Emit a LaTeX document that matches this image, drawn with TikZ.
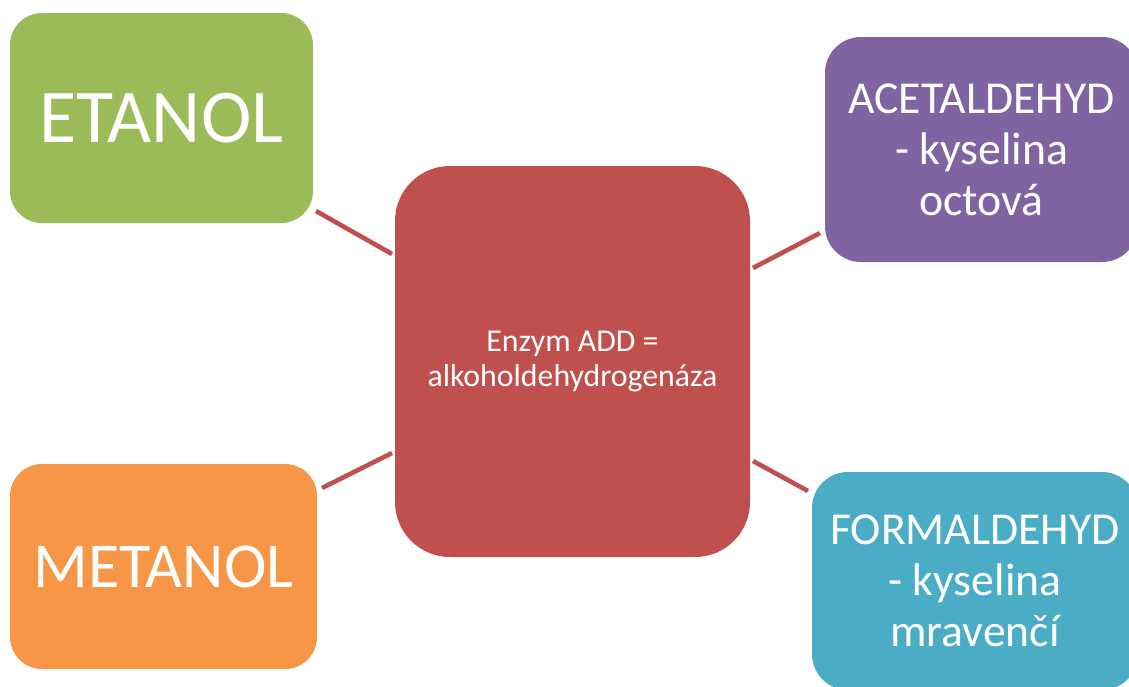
\documentclass[tikz,border=0pt]{standalone}
\usepackage{fontspec}
\setmainfont{Carlito}
\definecolor{cgreen}{HTML}{9BBB59}
\definecolor{cpurple}{HTML}{8064A2}
\definecolor{cred}{HTML}{C0504D}
\definecolor{corange}{HTML}{F79646}
\definecolor{cblue}{HTML}{4BACC6}
\tikzset{
  blob/.style={rectangle, text=white, inner sep=0pt, align=center},
  link/.style={draw=cred, line width=4.6pt},
}
\begin{document}
\begin{tikzpicture}[x=1pt,y=-1pt]
\useasboundingbox (0,0) rectangle (1129,686);
\clip (0,0) rectangle (1129,686);
\node[blob, fill=cgreen, minimum width=303pt, minimum height=210pt, rounded corners=32pt,
      font=\fontsize{76}{84}\selectfont] (etanol) at (161.5,118) {ETANOL};
\node[blob, fill=cpurple, minimum width=313pt, minimum height=225pt, rounded corners=36pt,
      font=\fontsize{45.7}{51}\selectfont] (acet) at (981.5,149.5) {ACETALDEHYD\\- kyselina\\octová};
\node[blob, fill=cred, minimum width=355pt, minimum height=391pt, rounded corners=55pt,
      font=\fontsize{31.8}{35}\selectfont] (enzym) at (572.5,361.5) {Enzym ADD =\\alkoholdehydrogenáza};
\node[blob, fill=corange, minimum width=307pt, minimum height=205pt, rounded corners=32pt,
      font=\fontsize{64}{72}\selectfont] (metanol) at (163.5,566.5) {METANOL};
\node[blob, fill=cblue, minimum width=326pt, minimum height=218pt, rounded corners=36pt,
      font=\fontsize{45.7}{51}\selectfont] (form) at (975,581) {FORMALDEHYD\\- kyselina\\mravenčí};
\coordinate (e1) at (316,211);
\coordinate (e2) at (392,254);
\coordinate (a1) at (820,233);
\coordinate (a2) at (753,268);
\coordinate (m1) at (322,488);
\coordinate (m2) at (392,453);
\coordinate (f1) at (808,491);
\coordinate (f2) at (753,461);
\draw[link] (e1) -- (e2);
\draw[link] (a1) -- (a2);
\draw[link] (m1) -- (m2);
\draw[link] (f1) -- (f2);
\end{tikzpicture}
\end{document}
